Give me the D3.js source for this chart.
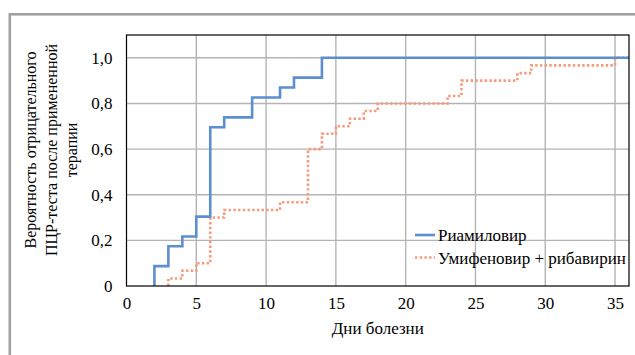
<!DOCTYPE html>
<html>
<head>
<meta charset="utf-8">
<script src="https://cdn.jsdelivr.net/npm/d3@7"></script>
<style>
  html, body { margin: 0; padding: 0; background: #fff; }
  svg { display: block; font-family: "Liberation Serif", "Times New Roman", serif; }
</style>
</head>
<body>
<div id="chart"></div>
<script>
// Kaplan-Meier style curves
let daysRiam = [2, 3, 4, 5, 6, 7, 9, 11, 12, 14];
let probRiam = [0.087, 0.174, 0.217, 0.304, 0.696, 0.739, 0.826, 0.870, 0.913, 1.0];

let daysUmif = [3, 4, 5, 6, 7, 11, 13, 14, 15, 16, 17, 18, 23, 24, 28, 29, 35];
let probUmif = [0.033, 0.067, 0.1, 0.3, 0.333, 0.367, 0.6, 0.667, 0.7, 0.733, 0.767, 0.8, 0.833, 0.9, 0.933, 0.967, 1.0];

let xTicks = [0, 5, 10, 15, 20, 25, 30, 35];
let yTicks = [0, 0.2, 0.4, 0.6, 0.8, 1.0];
let seriesNames = ["Риамиловир", "Умифеновир + рибавирин"];

let width = 635, height = 355;
let margin = { left: 126.5, right: 6, top: 35, bottom: 69 };

let svg = d3.select("#chart").append("svg")
    .attr("width", width)
    .attr("height", height);

// outer frame (runs off the right and bottom edges)
svg.append("rect")
    .attr("x", 9.8)
    .attr("y", 14.3)
    .attr("width", 700)
    .attr("height", 400)
    .attr("fill", "none")
    .attr("stroke", "#a0a0a0")
    .attr("stroke-width", 2.6);

let x = d3.scaleLinear().domain([0, 36]).range([margin.left, width - margin.right]);
let y = d3.scaleLinear().domain([0, 1.1]).range([height - margin.bottom, margin.top]);

// gridlines
let grid = svg.append("g").attr("class", "grid");
grid.selectAll(".hgrid")
    .data(yTicks.filter(function (d) { return d > 0; }))
    .enter().append("line")
    .attr("x1", x(0)).attr("x2", x(36))
    .attr("y1", function (d) { return y(d); })
    .attr("y2", function (d) { return y(d); })
    .attr("stroke", "#b4b4b4")
    .attr("stroke-width", 1.4);
grid.selectAll(".vgrid")
    .data(xTicks.filter(function (d) { return d > 0; }))
    .enter().append("line")
    .attr("y1", y(0)).attr("y2", y(1.1))
    .attr("x1", function (d) { return x(d); })
    .attr("x2", function (d) { return x(d); })
    .attr("stroke", "#b4b4b4")
    .attr("stroke-width", 1.4);

// tick labels via axes, with lines hidden
let fmt = function (d) { return d === 0 ? "0" : d3.format(".1f")(d).replace(".", ","); };
let yAxis = svg.append("g")
    .attr("transform", "translate(" + (margin.left - 14) + ",0)")
    .call(d3.axisLeft(y).tickValues(yTicks).tickFormat(fmt).tickSize(0).tickPadding(0));
let xAxis = svg.append("g")
    .attr("transform", "translate(0," + (y(0) + 7) + ")")
    .call(d3.axisBottom(x).tickValues(xTicks).tickFormat(d3.format("d")).tickSize(0).tickPadding(0));
[yAxis, xAxis].forEach(function (a) {
    a.select(".domain").remove();
    a.selectAll("text")
        .attr("font-family", "Liberation Serif")
        .attr("font-size", 17)
        .attr("fill", "#000");
});
xAxis.selectAll("text").attr("dy", "0.95em");

// series
function stepPoints(days, probs) {
    let pts = [[days[0], 0]];
    days.forEach(function (d, i) { pts.push([d, probs[i]]); });
    pts.push([36, probs[probs.length - 1]]);
    return pts;
}
let line = d3.line()
    .x(function (d) { return x(d[0]); })
    .y(function (d) { return y(d[1]); })
    .curve(d3.curveStepAfter);

svg.append("path")
    .datum(stepPoints(daysUmif, probUmif))
    .attr("d", line)
    .attr("fill", "none")
    .attr("stroke", "#f79a7b")
    .attr("stroke-width", 2.6)
    .attr("stroke-dasharray", "2.4,2.3");

svg.append("path")
    .datum(stepPoints(daysRiam, probRiam))
    .attr("d", line)
    .attr("fill", "none")
    .attr("stroke", "#5b8fcf")
    .attr("stroke-width", 2.6);

// plot border
svg.append("rect")
    .attr("x", x(0))
    .attr("y", y(1.1))
    .attr("width", x(36) - x(0))
    .attr("height", y(0) - y(1.1))
    .attr("fill", "none")
    .attr("stroke", "#000")
    .attr("stroke-width", 1.2);

// legend
let legend = svg.append("g").attr("transform", "translate(415,235)");
let legendStyles = [
    { color: "#5b8fcf", dash: null },
    { color: "#f79a7b", dash: "2.4,2.3" }
];
seriesNames.forEach(function (name, i) {
    let row = legend.append("g").attr("transform", "translate(0," + (i * 22.5) + ")");
    row.append("line")
        .attr("x1", 0).attr("x2", 20)
        .attr("stroke", legendStyles[i].color)
        .attr("stroke-width", 2.6)
        .attr("stroke-dasharray", legendStyles[i].dash);
    row.append("text")
        .attr("x", 23)
        .attr("y", 6)
        .attr("font-size", 17)
        .text(name);
});

// axis titles
svg.append("text")
    .attr("x", (x(0) + x(36)) / 2)
    .attr("y", 334)
    .attr("text-anchor", "middle")
    .attr("font-size", 17)
    .text("Дни болезни");

let yTitle = ["Вероятность отрицательного", "ПЦР-теста после примененной", "терапии"];
let yt = svg.append("text")
    .attr("transform", "translate(36,150) rotate(-90)")
    .attr("text-anchor", "middle")
    .attr("font-size", 16);
yTitle.forEach(function (t, i) {
    yt.append("tspan")
        .attr("x", 0)
        .attr("y", i * 20.5)
        .text(t);
});
</script>
</body>
</html>
